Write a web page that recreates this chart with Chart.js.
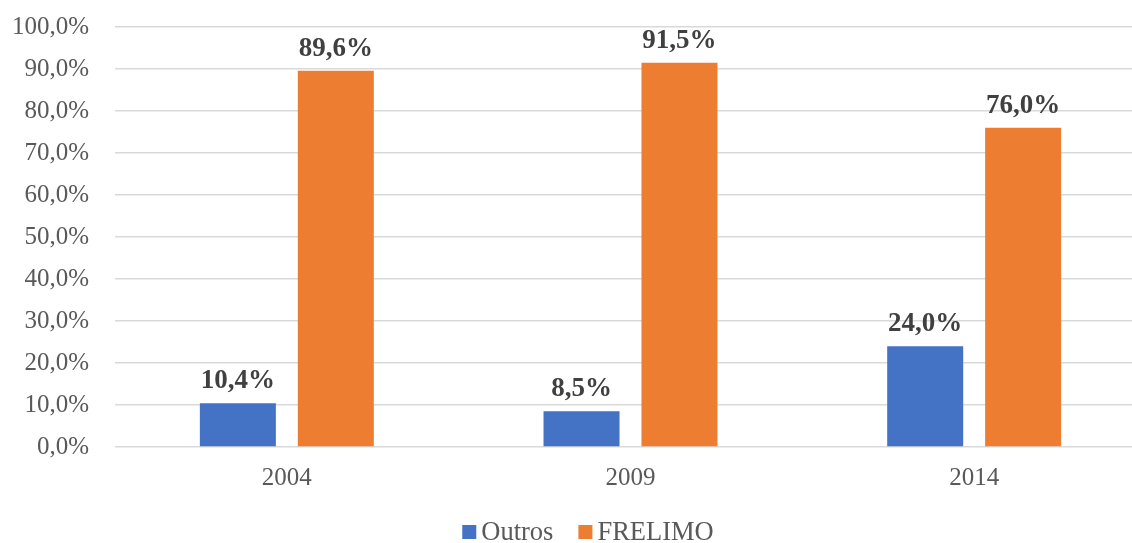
<!DOCTYPE html>
<html>
<head>
<meta charset="utf-8">
<script src="https://cdn.jsdelivr.net/npm/chart.js@4/dist/chart.umd.min.js"></script>
<style>
  html, body { margin: 0; padding: 0; overflow: hidden; background: #fff; }
  #wrap { width: 1176px; height: 543px; }
</style>
</head>
<body>
<div id="wrap"><canvas id="barChart" width="1176" height="543"></canvas></div>
<script>
var years = ["2004", "2009", "2014"];
var outros = [10.4, 8.5, 24.0];
var frelimo = [89.6, 91.5, 76.0];
var seriesNames = ["Outros", "FRELIMO"];

var serif = "'Liberation Serif', 'Times New Roman', serif";

var fmt = function (v) {
    return v.toFixed(1).replace(".", ",") + "%";
};

// draws the bold value above each bar
var valueLabels = {
    id: "valueLabels",
    afterDatasetsDraw: function (chart) {
        var ctx = chart.ctx;
        ctx.save();
        ctx.font = "bold 27px " + serif;
        ctx.fillStyle = "#404040";
        ctx.textAlign = "center";
        ctx.textBaseline = "alphabetic";
        chart.data.datasets.forEach(function (ds, i) {
            chart.getDatasetMeta(i).data.forEach(function (bar, j) {
                ctx.fillText(fmt(ds.data[j]), bar.x, bar.y - 15);
            });
        });
        ctx.restore();
    }
};

// legend at the bottom, drawn by hand so spacing matches
var bottomLegend = {
    id: "bottomLegend",
    afterDraw: function (chart) {
        var ctx = chart.ctx;
        var box = 14, gap = 5, between = 25, baseline = 540;
        ctx.save();
        ctx.font = "26.5px " + serif;
        ctx.textBaseline = "alphabetic";
        ctx.textAlign = "left";
        var items = chart.data.datasets.map(function (ds) {
            return { text: ds.label, color: ds.backgroundColor, w: ctx.measureText(ds.label).width };
        });
        var total = 0;
        items.forEach(function (it, i) {
            total += box + gap + it.w + (i > 0 ? between : 0);
        });
        var x = chart.width / 2 - total / 2;
        items.forEach(function (it) {
            ctx.fillStyle = it.color;
            ctx.fillRect(x, baseline - 15, box, box);
            x += box + gap;
            ctx.fillStyle = "#595959";
            ctx.fillText(it.text, x, baseline);
            x += it.w + between;
        });
        ctx.restore();
    }
};

var ctxB = document.getElementById("barChart").getContext("2d");
var myBarChart = new Chart(ctxB, {
    type: "bar",
    data: {
        labels: years,
        datasets: [{
            label: seriesNames[0],
            data: outros,
            backgroundColor: "#4472C4",
            categoryPercentage: 0.57,
            barPercentage: 0.776
        }, {
            label: seriesNames[1],
            data: frelimo,
            backgroundColor: "#ED7D31",
            categoryPercentage: 0.57,
            barPercentage: 0.776
        }]
    },
    options: {
        responsive: false,
        animation: false,
        layout: { padding: { top: 27, right: 30, left: 12, bottom: 42 } },
        plugins: {
            tooltip: { enabled: false },
            legend: { display: false }
        },
        scales: {
            x: {
                grid: { display: false },
                border: { display: false },
                ticks: {
                    color: "#595959",
                    padding: 8,
                    font: { family: serif, size: 25 }
                }
            },
            y: {
                min: 0,
                max: 100,
                grid: { color: "#d9d9d9", lineWidth: 1.5, drawTicks: false },
                border: { display: false },
                afterFit: function (scale) {
                    scale.width = 103;
                    scale.paddingTop = 0;
                    scale.paddingBottom = 0;
                },
                ticks: {
                    stepSize: 10,
                    color: "#595959",
                    padding: 26,
                    font: { family: serif, size: 25 },
                    callback: function (v) { return fmt(v); }
                }
            }
        }
    },
    plugins: [valueLabels, bottomLegend]
});
</script>
</body>
</html>
